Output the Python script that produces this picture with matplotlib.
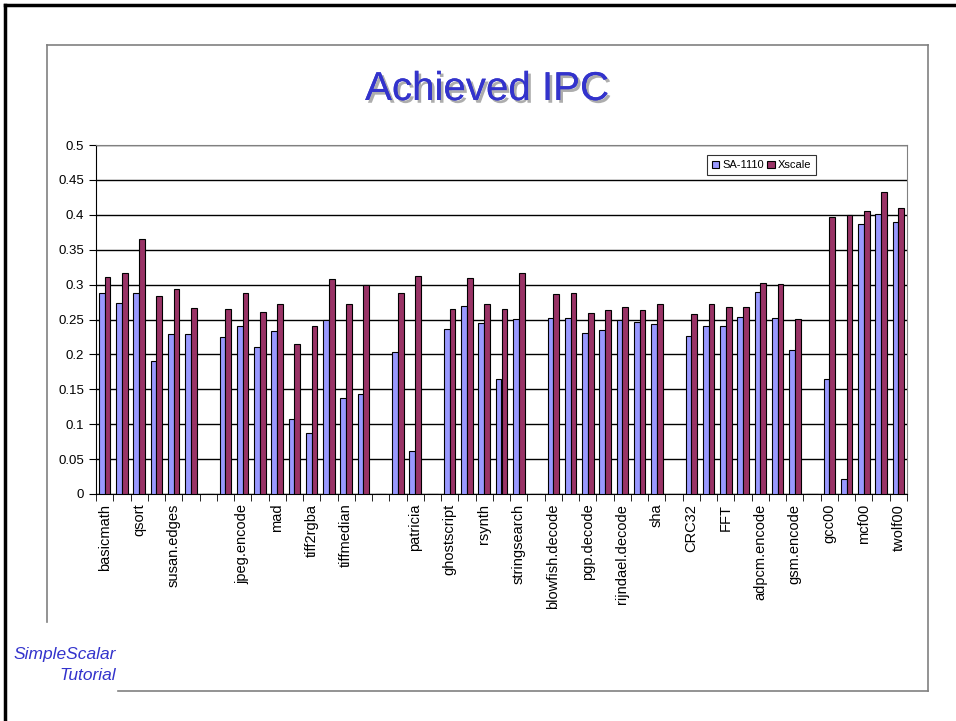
import matplotlib
matplotlib.use('Agg')
import matplotlib.pyplot as plt
import matplotlib.patheffects as pe
from matplotlib.lines import Line2D
import numpy as np

plt.rcParams['font.family'] = ['Liberation Sans', 'DejaVu Sans']

# benchmark names ('' = empty slot in the chart)
benchmarks = ['basicmath', 'bitcount', 'qsort', 'susan.corners', 'susan.edges', 'susan.smoothing',
              '', 'jpeg.decode', 'jpeg.encode', 'lame', 'mad', 'tiff2bw', 'tiff2rgba', 'tiffdither',
              'tiffmedian', 'typeset', '', 'dijkstra', 'patricia', '', 'ghostscript', 'ispell',
              'rsynth', 'sphinx', 'stringsearch', '', 'blowfish.decode', 'blowfish.encode',
              'pgp.decode', 'pgp.encode', 'rijndael.decode', 'rijndael.encode', 'sha', '',
              'CRC32', 'adpcm.decode', 'FFT', 'FFT.inverse', 'adpcm.encode', 'gsm.decode',
              'gsm.encode', '', 'gcc00', 'gzip00', 'mcf00', 'parser00', 'twolf00']

sa1110 = [0.288, 0.274, 0.288, 0.190, 0.229, 0.229,
          0, 0.225, 0.241, 0.210, 0.234, 0.107, 0.087, 0.249,
          0.138, 0.143, 0, 0.204, 0.062, 0, 0.237, 0.269,
          0.245, 0.165, 0.251, 0, 0.252, 0.252,
          0.231, 0.235, 0.250, 0.247, 0.243, 0,
          0.226, 0.240, 0.241, 0.254, 0.290, 0.252,
          0.207, 0, 0.165, 0.021, 0.387, 0.401, 0.390]

xscale = [0.311, 0.317, 0.365, 0.283, 0.293, 0.266,
          0, 0.265, 0.288, 0.261, 0.272, 0.215, 0.241, 0.308,
          0.272, 0.299, 0, 0.288, 0.313, 0, 0.265, 0.310,
          0.272, 0.265, 0.317, 0, 0.286, 0.288,
          0.259, 0.263, 0.268, 0.263, 0.272, 0,
          0.258, 0.272, 0.268, 0.268, 0.303, 0.301,
          0.251, 0, 0.397, 0.399, 0.405, 0.432, 0.410]

blue = '#9999FF'
plum = '#993366'
title_blue = '#3333CC'

fig = plt.figure(figsize=(9.56, 7.21), dpi=100)
W, H = 956.0, 721.0

def fx(px):
    return px / W

def fy(py):
    return 1 - py / H

# slide frame and chart box
fig.add_artist(Line2D([fx(5), fx(956)], [fy(5), fy(5)], color='black', lw=2.5))
fig.add_artist(Line2D([fx(5), fx(5)], [fy(5), fy(721)], color='black', lw=2.5))
box = dict(color='#808080', lw=1.2)
fig.add_artist(Line2D([fx(47), fx(928)], [fy(45), fy(45)], **box))
fig.add_artist(Line2D([fx(928), fx(928)], [fy(45), fy(691)], **box))
fig.add_artist(Line2D([fx(118), fx(928)], [fy(691), fy(691)], **box))
fig.add_artist(Line2D([fx(47), fx(47)], [fy(45), fy(622)], **box))

fig.text(fx(487), fy(89), 'Achieved IPC', ha='center', va='center', color=title_blue,
         fontsize=29,
         path_effects=[pe.withSimplePatchShadow(offset=(2, -2), shadow_rgbFace='#999999', alpha=0.8),
                       pe.Normal()])

fig.text(fx(116), fy(655), 'SimpleScalar', ha='right', va='center', color=title_blue,
         fontsize=12.5, style='italic')
fig.text(fx(116), fy(676), 'Tutorial', ha='right', va='center', color=title_blue,
         fontsize=12.5, style='italic')

ax = fig.add_axes([fx(96), fy(494), fx(907) - fx(96), fy(145) - fy(494)])

x = np.arange(len(benchmarks))
w = 1 / 3.0
ax.bar(x - w / 2, sa1110, w, color=blue, edgecolor='black', lw=0.8, label='SA-1110', zorder=3)
ax.bar(x + w / 2, xscale, w, color=plum, edgecolor='black', lw=0.8, label='Xscale', zorder=3)

ax.set_xlim(-0.5, len(benchmarks) - 0.5)
ax.set_ylim(0, 0.5)
ax.set_yticks(np.arange(0, 0.501, 0.05))
ax.set_yticklabels(['0', '0.05', '0.1', '0.15', '0.2', '0.25', '0.3', '0.35', '0.4', '0.45', '0.5'])
ax.yaxis.grid(True, color='black', lw=1, zorder=0)

ax.set_xticks(x)
ax.set_xticklabels([b if i % 2 == 0 else '' for i, b in enumerate(benchmarks)],
                   rotation=90, fontsize=10.5)
ax.set_xticks(np.arange(-0.5, len(benchmarks)), minor=True)
ax.tick_params(axis='x', which='major', length=0, pad=7)
ax.tick_params(axis='x', which='minor', length=5, direction='out', color='black')
ax.tick_params(axis='y', labelsize=9.5, length=5, direction='out')

for side in ['top', 'right']:
    ax.spines[side].set_color('#808080')
for side in ['left', 'bottom']:
    ax.spines[side].set_color('black')

leg = ax.legend(loc='upper right', bbox_to_anchor=(0.895, 0.986), ncol=2, fontsize=8,
                frameon=True, fancybox=False, edgecolor='black', handlelength=0.7,
                handleheight=0.7, handletextpad=0.25, columnspacing=0.3, borderpad=0.45)
leg.get_frame().set_linewidth(0.8)

plt.savefig('out.png', dpi=100)
